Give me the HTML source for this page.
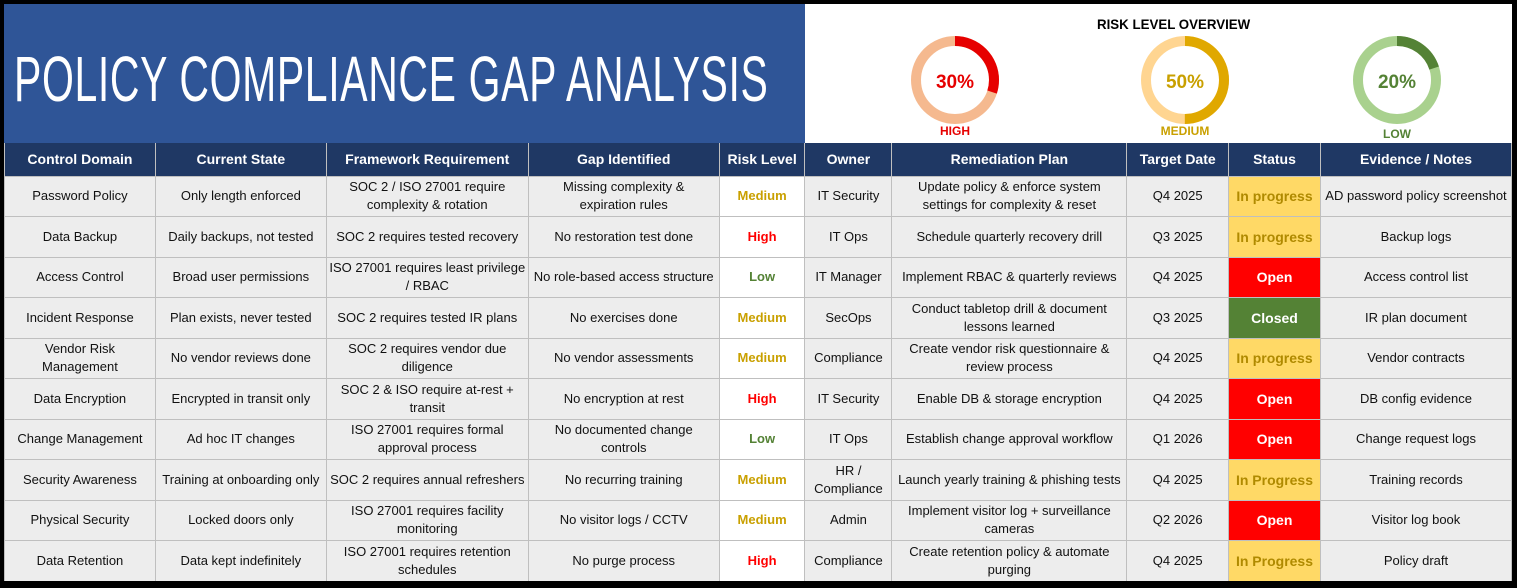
<!DOCTYPE html>
<html><head><meta charset="utf-8"><style>
*{margin:0;padding:0;box-sizing:border-box}
body{width:1517px;height:588px;background:#000;position:relative;overflow:hidden;font-family:"Liberation Sans",sans-serif}
#frame{position:absolute;left:4px;top:4px;width:1508px;height:577px;background:#fff;overflow:hidden}
#title{position:absolute;left:0;top:0;width:801px;height:139px;background:#2F5597;color:#fff;overflow:hidden}
#title span{display:block;position:absolute;left:10px;top:38px;font-size:64px;white-space:nowrap;transform:scaleX(0.64);transform-origin:left top;letter-spacing:1px}
#ov{position:absolute;left:1093px;top:12px;font-weight:bold;font-size:14px;transform:scaleX(.95);transform-origin:left top}
table{position:absolute;left:0;top:139px;border-collapse:collapse;table-layout:fixed;font-size:13px;color:#111}
th{background:#1F3864;color:#fff;font-weight:bold;font-size:14px;height:33px;border:1px solid #bfbfbf;border-top:none}
td{background:#ededed;border:1.5px solid #bfbfbf;height:40.5px;text-align:center;line-height:18px;padding:0 1px;white-space:nowrap}
td.r{background:#fff;font-weight:bold}
.m{color:#C9A000}.h{color:#FF0000}.l{color:#548235}
.ip{background:#FFD966!important;color:#B08A00;font-weight:bold;font-size:14px}
.op{background:#FF0000!important;color:#fff;font-weight:bold;font-size:14px}
.cl{background:#548235!important;color:#fff;font-weight:bold;font-size:14px}
</style></head><body><div id="frame">
<div id="title"><span>POLICY COMPLIANCE GAP ANALYSIS</span></div>
<div id="ov">RISK LEVEL OVERVIEW</div>
<svg style="position:absolute;left:801px;top:0" width="707" height="139">
<g font-family="Liberation Sans" font-weight="bold" text-anchor="middle">
<circle cx="150" cy="76" r="39" fill="none" stroke="#F4B183" stroke-width="10" opacity=".9"/>
<circle cx="150" cy="76" r="39" fill="none" stroke="#E60000" stroke-width="10" stroke-dasharray="73.5 300" transform="rotate(-90 150 76)"/>
<text x="150" y="84" font-size="19" fill="#E60000">30%</text>
<text x="150" y="131" font-size="12" fill="#E60000">HIGH</text>
<circle cx="380" cy="76" r="39" fill="none" stroke="#FFD591" stroke-width="10"/>
<circle cx="380" cy="76" r="39" fill="none" stroke="#E0A800" stroke-width="10" stroke-dasharray="122.5 300" transform="rotate(-90 380 76)"/>
<text x="380" y="84" font-size="19" fill="#C9A000">50%</text>
<text x="380" y="131" font-size="12" fill="#C9A000">MEDIUM</text>
<circle cx="592" cy="76" r="39" fill="none" stroke="#A9D18E" stroke-width="10"/>
<circle cx="592" cy="76" r="39" fill="none" stroke="#548235" stroke-width="10" stroke-dasharray="49 300" transform="rotate(-90 592 76)"/>
<text x="592" y="84" font-size="19" fill="#548235">20%</text>
<text x="592" y="134" font-size="12" fill="#548235">LOW</text>
</g></svg>
<table>
<colgroup><col style="width:151px"><col style="width:171px"><col style="width:202px"><col style="width:191px"><col style="width:86px"><col style="width:87px"><col style="width:235px"><col style="width:102px"><col style="width:92px"><col style="width:191px"></colgroup>
<tr><th>Control Domain</th><th>Current State</th><th>Framework Requirement</th><th>Gap Identified</th><th>Risk Level</th><th>Owner</th><th>Remediation Plan</th><th>Target Date</th><th>Status</th><th>Evidence / Notes</th></tr>
<tr><td>Password Policy</td><td>Only length enforced</td><td>SOC 2 / ISO 27001 require<br>complexity &amp; rotation</td><td>Missing complexity &amp;<br>expiration rules</td><td class="r m">Medium</td><td>IT Security</td><td>Update policy &amp; enforce system<br>settings for complexity &amp; reset</td><td>Q4 2025</td><td class="ip">In progress</td><td>AD password policy screenshot</td></tr>
<tr><td>Data Backup</td><td>Daily backups, not tested</td><td>SOC 2 requires tested recovery</td><td>No restoration test done</td><td class="r h">High</td><td>IT Ops</td><td>Schedule quarterly recovery drill</td><td>Q3 2025</td><td class="ip">In progress</td><td>Backup logs</td></tr>
<tr><td>Access Control</td><td>Broad user permissions</td><td>ISO 27001 requires least privilege<br>/ RBAC</td><td>No role-based access structure</td><td class="r l">Low</td><td>IT Manager</td><td>Implement RBAC &amp; quarterly reviews</td><td>Q4 2025</td><td class="op">Open</td><td>Access control list</td></tr>
<tr><td>Incident Response</td><td>Plan exists, never tested</td><td>SOC 2 requires tested IR plans</td><td>No exercises done</td><td class="r m">Medium</td><td>SecOps</td><td>Conduct tabletop drill &amp; document<br>lessons learned</td><td>Q3 2025</td><td class="cl">Closed</td><td>IR plan document</td></tr>
<tr><td>Vendor Risk<br>Management</td><td>No vendor reviews done</td><td>SOC 2 requires vendor due<br>diligence</td><td>No vendor assessments</td><td class="r m">Medium</td><td>Compliance</td><td>Create vendor risk questionnaire &amp;<br>review process</td><td>Q4 2025</td><td class="ip">In progress</td><td>Vendor contracts</td></tr>
<tr><td>Data Encryption</td><td>Encrypted in transit only</td><td>SOC 2 &amp; ISO require at-rest +<br>transit</td><td>No encryption at rest</td><td class="r h">High</td><td>IT Security</td><td>Enable DB &amp; storage encryption</td><td>Q4 2025</td><td class="op">Open</td><td>DB config evidence</td></tr>
<tr><td>Change Management</td><td>Ad hoc IT changes</td><td>ISO 27001 requires formal<br>approval process</td><td>No documented change<br>controls</td><td class="r l">Low</td><td>IT Ops</td><td>Establish change approval workflow</td><td>Q1 2026</td><td class="op">Open</td><td>Change request logs</td></tr>
<tr><td>Security Awareness</td><td>Training at onboarding only</td><td>SOC 2 requires annual refreshers</td><td>No recurring training</td><td class="r m">Medium</td><td>HR /<br>Compliance</td><td>Launch yearly training &amp; phishing tests</td><td>Q4 2025</td><td class="ip">In Progress</td><td>Training records</td></tr>
<tr><td>Physical Security</td><td>Locked doors only</td><td>ISO 27001 requires facility<br>monitoring</td><td>No visitor logs / CCTV</td><td class="r m">Medium</td><td>Admin</td><td>Implement visitor log + surveillance<br>cameras</td><td>Q2 2026</td><td class="op">Open</td><td>Visitor log book</td></tr>
<tr><td>Data Retention</td><td>Data kept indefinitely</td><td>ISO 27001 requires retention<br>schedules</td><td>No purge process</td><td class="r h">High</td><td>Compliance</td><td>Create retention policy &amp; automate<br>purging</td><td>Q4 2025</td><td class="ip">In Progress</td><td>Policy draft</td></tr>
</table>
</div></body></html>
